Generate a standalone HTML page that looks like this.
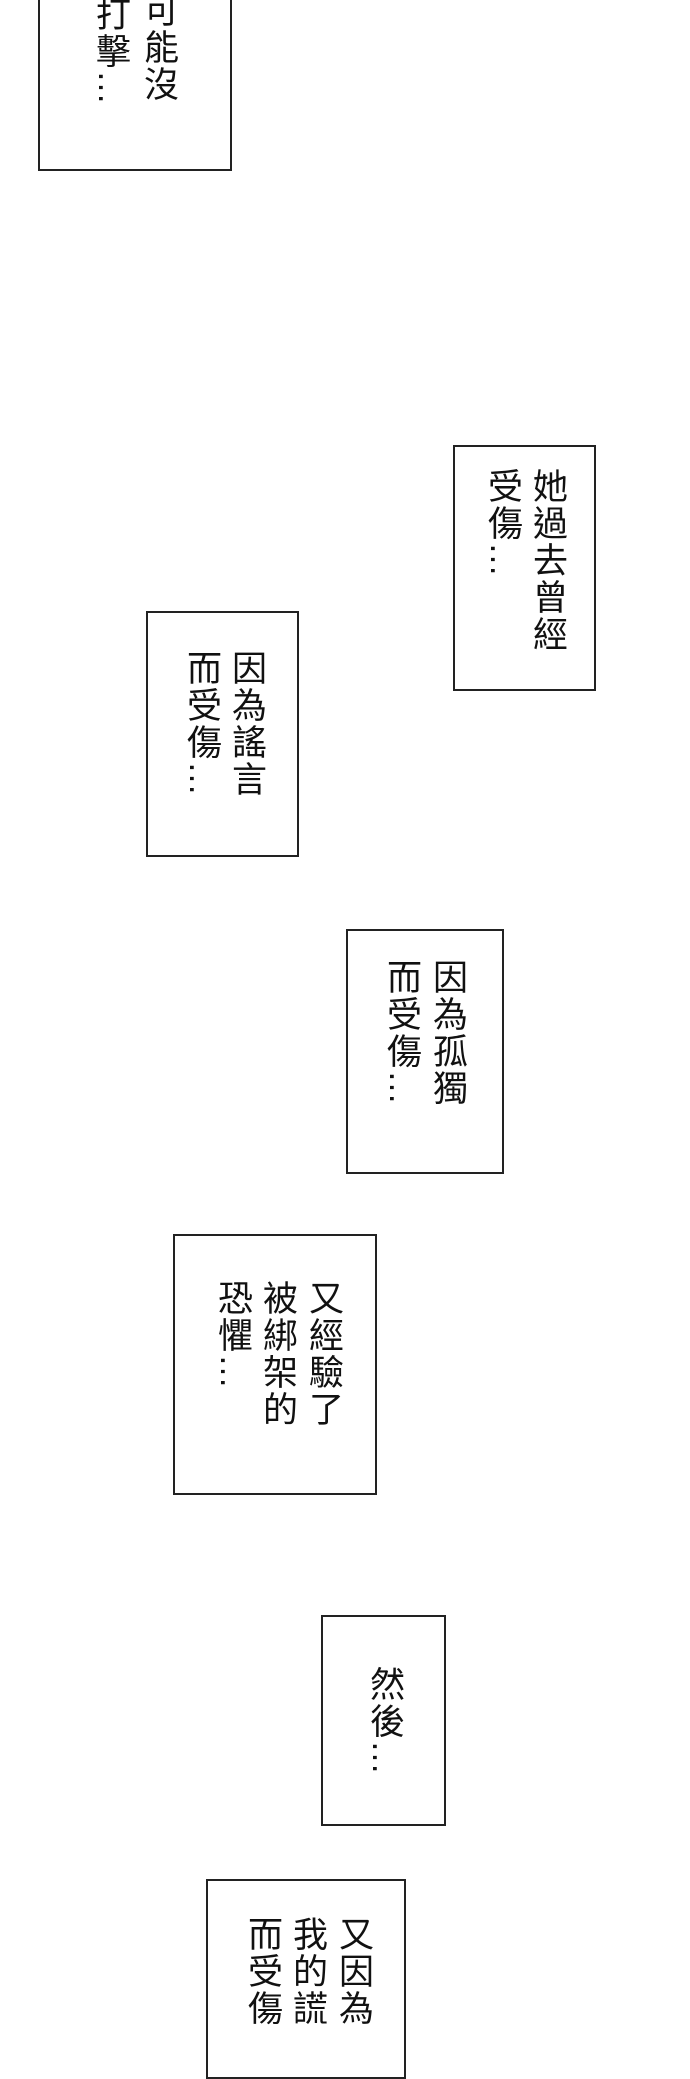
<!DOCTYPE html>
<html><head><meta charset="utf-8"><style>
html,body{margin:0;padding:0;background:#fff;}
body{width:690px;height:2000px;position:relative;overflow:hidden;}
.b{position:absolute;border:2px solid #222;box-sizing:border-box;background:#fff;}
.c{position:absolute;writing-mode:vertical-rl;font-family:"Liberation Sans","Noto Sans CJK TC",sans-serif;font-size:35px;line-height:36px;width:36px;letter-spacing:2px;color:#111;white-space:nowrap;}
</style></head><body>
<div class="b" style="left:38px;top:-10px;width:194px;height:181px"></div>
<div class="c" style="left:140px;top:-8px">可能沒</div>
<div class="c" style="left:92px;top:-4px">打擊…</div>

<div class="b" style="left:453px;top:445px;width:143px;height:246px"></div>
<div class="c" style="left:529px;top:468px">她過去曾經</div>
<div class="c" style="left:484px;top:468px">受傷…</div>

<div class="b" style="left:146px;top:611px;width:153px;height:246px"></div>
<div class="c" style="left:228px;top:650px">因為謠言</div>
<div class="c" style="left:183px;top:650px">而受傷…</div>

<div class="b" style="left:346px;top:929px;width:158px;height:245px"></div>
<div class="c" style="left:429px;top:959px">因為孤獨</div>
<div class="c" style="left:383px;top:959px">而受傷…</div>

<div class="b" style="left:173px;top:1234px;width:204px;height:261px"></div>
<div class="c" style="left:305px;top:1280px">又經驗了</div>
<div class="c" style="left:259px;top:1280px">被綁架的</div>
<div class="c" style="left:214px;top:1280px">恐懼…</div>

<div class="b" style="left:321px;top:1615px;width:125px;height:211px"></div>
<div class="c" style="left:366px;top:1666px">然後…</div>

<div class="b" style="left:206px;top:1879px;width:200px;height:200px"></div>
<div class="c" style="left:335px;top:1916px">又因為</div>
<div class="c" style="left:289px;top:1916px">我的謊</div>
<div class="c" style="left:244px;top:1916px">而受傷</div>
</body></html>
